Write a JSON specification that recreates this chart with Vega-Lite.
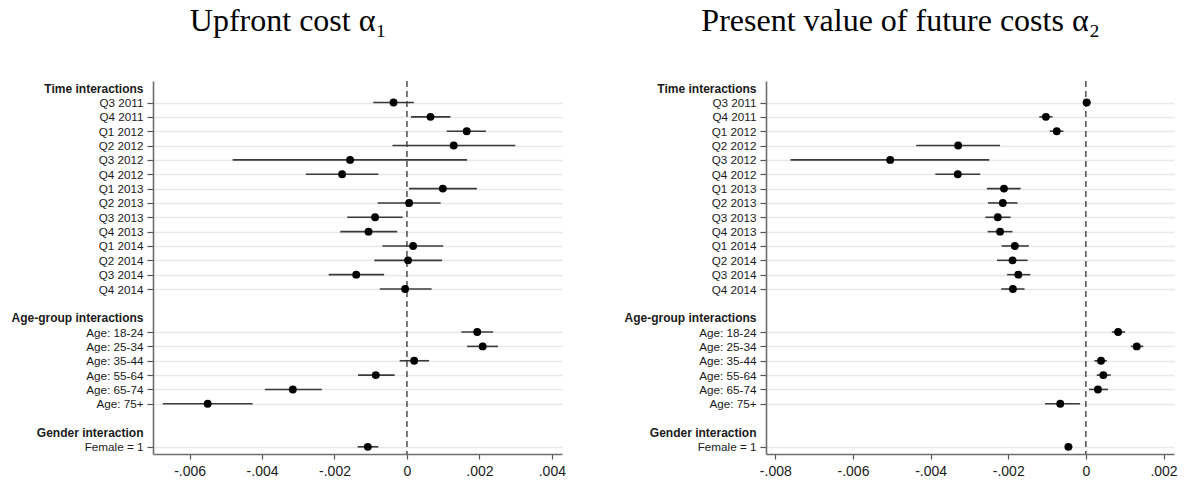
{
  "$schema": "https://vega.github.io/schema/vega-lite/v6.json",
  "padding": {"left": 10, "top": 5, "right": 5, "bottom": 5},
  "background": "white",
  "datasets": {
    "a1": [
      {"term": "Q3 2011", "est": -0.00037, "lo": -0.00093, "hi": 0.00019},
      {"term": "Q4 2011", "est": 0.00065, "lo": 0.00011, "hi": 0.00120},
      {"term": "Q1 2012", "est": 0.00165, "lo": 0.00110, "hi": 0.00218},
      {"term": "Q2 2012", "est": 0.00129, "lo": -0.00040, "hi": 0.00299},
      {"term": "Q3 2012", "est": -0.00157, "lo": -0.00481, "hi": 0.00166},
      {"term": "Q4 2012", "est": -0.00179, "lo": -0.00279, "hi": -0.00079},
      {"term": "Q1 2013", "est": 0.00099, "lo": 0.00006, "hi": 0.00193},
      {"term": "Q2 2013", "est": 0.00006, "lo": -0.00081, "hi": 0.00093},
      {"term": "Q3 2013", "est": -0.00088, "lo": -0.00165, "hi": -0.00012},
      {"term": "Q4 2013", "est": -0.00106, "lo": -0.00184, "hi": -0.00027},
      {"term": "Q1 2014", "est": 0.00017, "lo": -0.00068, "hi": 0.00100},
      {"term": "Q2 2014", "est": 0.00003, "lo": -0.00090, "hi": 0.00097},
      {"term": "Q3 2014", "est": -0.00140, "lo": -0.00216, "hi": -0.00063},
      {"term": "Q4 2014", "est": -0.00005, "lo": -0.00075, "hi": 0.00068},
      {"term": "Age: 18-24", "est": 0.00194, "lo": 0.00150, "hi": 0.00238},
      {"term": "Age: 25-34", "est": 0.00209, "lo": 0.00166, "hi": 0.00251},
      {"term": "Age: 35-44", "est": 0.00020, "lo": -0.00020, "hi": 0.00061},
      {"term": "Age: 55-64", "est": -0.00086, "lo": -0.00135, "hi": -0.00034},
      {"term": "Age: 65-74", "est": -0.00315, "lo": -0.00392, "hi": -0.00235},
      {"term": "Age: 75+", "est": -0.00550, "lo": -0.00674, "hi": -0.00426},
      {"term": "Female = 1", "est": -0.00108, "lo": -0.00136, "hi": -0.00079}
    ],
    "a2": [
      {"term": "Q3 2011", "est": 0.00002, "lo": -0.00008, "hi": 0.00013},
      {"term": "Q4 2011", "est": -0.00103, "lo": -0.00120, "hi": -0.00086},
      {"term": "Q1 2012", "est": -0.00075, "lo": -0.00093, "hi": -0.00058},
      {"term": "Q2 2012", "est": -0.00329, "lo": -0.00437, "hi": -0.00221},
      {"term": "Q3 2012", "est": -0.00504, "lo": -0.00761, "hi": -0.00249},
      {"term": "Q4 2012", "est": -0.00330, "lo": -0.00388, "hi": -0.00272},
      {"term": "Q1 2013", "est": -0.00211, "lo": -0.00255, "hi": -0.00168},
      {"term": "Q2 2013", "est": -0.00214, "lo": -0.00252, "hi": -0.00176},
      {"term": "Q3 2013", "est": -0.00227, "lo": -0.00259, "hi": -0.00194},
      {"term": "Q4 2013", "est": -0.00221, "lo": -0.00253, "hi": -0.00189},
      {"term": "Q1 2014", "est": -0.00183, "lo": -0.00217, "hi": -0.00147},
      {"term": "Q2 2014", "est": -0.00189, "lo": -0.00229, "hi": -0.00150},
      {"term": "Q3 2014", "est": -0.00174, "lo": -0.00203, "hi": -0.00143},
      {"term": "Q4 2014", "est": -0.00188, "lo": -0.00218, "hi": -0.00158},
      {"term": "Age: 18-24", "est": 0.00083, "lo": 0.00067, "hi": 0.00101},
      {"term": "Age: 25-34", "est": 0.00131, "lo": 0.00116, "hi": 0.00148},
      {"term": "Age: 35-44", "est": 0.00039, "lo": 0.00022, "hi": 0.00054},
      {"term": "Age: 55-64", "est": 0.00045, "lo": 0.00028, "hi": 0.00064},
      {"term": "Age: 65-74", "est": 0.00031, "lo": 0.00008, "hi": 0.00057},
      {"term": "Age: 75+", "est": -0.00066, "lo": -0.00105, "hi": -0.00015},
      {"term": "Female = 1", "est": -0.00045, "lo": -0.00054, "hi": -0.00035}
    ],
    "zero": [{"z": 0}]
  },
  "spacing": 57,
  "hconcat": [
    {
      "width": 409,
      "height": 373,
      "title": {"text": "Upfront cost α₁"},
      "layer": [
        {
          "data": {"name": "zero"},
          "mark": {"type": "rule", "color": "#333333", "strokeWidth": 1.3, "strokeDash": [6, 4]},
          "encoding": {
            "x": {"field": "z", "type": "quantitative", "scale": {"domain": [-0.00701, 0.00428], "nice": false, "zero": false}}
          }
        },
        {
          "data": {"name": "a1"},
          "mark": {"type": "rule", "color": "#3a3a3a", "strokeWidth": 1.6},
          "encoding": {
            "y": {"field": "term", "type": "nominal", "sort": null,
              "scale": {"type": "point", "padding": 0.5, "domain": ["Time interactions", "Q3 2011", "Q4 2011", "Q1 2012", "Q2 2012", "Q3 2012", "Q4 2012", "Q1 2013", "Q2 2013", "Q3 2013", "Q4 2013", "Q1 2014", "Q2 2014", "Q3 2014", "Q4 2014", "_b1", "Age-group interactions", "Age: 18-24", "Age: 25-34", "Age: 35-44", "Age: 55-64", "Age: 65-74", "Age: 75+", "_b2", "Gender interaction", "Female = 1"]}},
            "x": {"field": "lo", "type": "quantitative", "scale": {"domain": [-0.00701, 0.00428], "nice": false, "zero": false},
              "axis": {"values": [-0.006, -0.004, -0.002, 0, 0.002, 0.004]}},
            "x2": {"field": "hi"}
          }
        },
        {
          "data": {"name": "a1"},
          "mark": {"type": "point", "filled": true, "size": 62, "color": "black", "opacity": 1},
          "encoding": {
            "y": {"field": "term", "type": "nominal", "sort": null},
            "x": {"field": "est", "type": "quantitative"}
          }
        }
      ]
    },
    {
      "width": 408,
      "height": 373,
      "title": {"text": "Present value of future costs α₂"},
      "layer": [
        {
          "data": {"name": "zero"},
          "mark": {"type": "rule", "color": "#333333", "strokeWidth": 1.3, "strokeDash": [6, 4]},
          "encoding": {
            "x": {"field": "z", "type": "quantitative", "scale": {"domain": [-0.00824, 0.00227], "nice": false, "zero": false}}
          }
        },
        {
          "data": {"name": "a2"},
          "mark": {"type": "rule", "color": "#3a3a3a", "strokeWidth": 1.6},
          "encoding": {
            "y": {"field": "term", "type": "nominal", "sort": null,
              "scale": {"type": "point", "padding": 0.5, "domain": ["Time interactions", "Q3 2011", "Q4 2011", "Q1 2012", "Q2 2012", "Q3 2012", "Q4 2012", "Q1 2013", "Q2 2013", "Q3 2013", "Q4 2013", "Q1 2014", "Q2 2014", "Q3 2014", "Q4 2014", "_b1", "Age-group interactions", "Age: 18-24", "Age: 25-34", "Age: 35-44", "Age: 55-64", "Age: 65-74", "Age: 75+", "_b2", "Gender interaction", "Female = 1"]}},
            "x": {"field": "lo", "type": "quantitative", "scale": {"domain": [-0.00824, 0.00227], "nice": false, "zero": false},
              "axis": {"values": [-0.008, -0.006, -0.004, -0.002, 0, 0.002]}},
            "x2": {"field": "hi"}
          }
        },
        {
          "data": {"name": "a2"},
          "mark": {"type": "point", "filled": true, "size": 62, "color": "black", "opacity": 1},
          "encoding": {
            "y": {"field": "term", "type": "nominal", "sort": null},
            "x": {"field": "est", "type": "quantitative"}
          }
        }
      ]
    }
  ],
  "config": {
    "view": {"stroke": null},
    "title": {"font": "Liberation Serif", "fontSize": 32, "fontWeight": "normal", "color": "black", "frame": "bounds", "anchor": "middle", "offset": 42},
    "axisY": {
      "title": null,
      "grid": true,
      "gridColor": "#e8e8e8",
      "gridWidth": 1.3,
      "gridOpacity": {"condition": {"test": "indexof(['Time interactions','Age-group interactions','Gender interaction','_b1','_b2'], datum.value) >= 0", "value": 0}, "value": 1},
      "tickOpacity": {"condition": {"test": "indexof(['Time interactions','Age-group interactions','Gender interaction','_b1','_b2'], datum.value) >= 0", "value": 0}, "value": 1},
      "labelFontWeight": {"condition": {"test": "indexof(['Time interactions','Age-group interactions','Gender interaction'], datum.value) >= 0", "value": "bold"}, "value": "normal"},
      "labelFontSize": {"condition": {"test": "indexof(['Time interactions','Age-group interactions','Gender interaction'], datum.value) >= 0", "value": 12}, "value": 11.7},
      "labelExpr": "indexof(datum.value, '_b') == 0 ? '' : datum.label",
      "labelFont": "Liberation Sans",
      "labelColor": "#1a1a1a",
      "labelPadding": 4,
      "tickSize": 6,
      "tickColor": "#555555",
      "tickWidth": 1.2,
      "domainColor": "#6e6e6e",
      "domainWidth": 1.6,
      "labelLimit": 300
    },
    "axisX": {
      "title": null,
      "grid": false,
      "labelFont": "Liberation Sans",
      "labelFontSize": 14,
      "labelColor": "#1a1a1a",
      "labelPadding": 5,
      "tickSize": 5,
      "tickColor": "#555555",
      "tickWidth": 1.2,
      "domainColor": "#6e6e6e",
      "domainWidth": 1.6,
      "labelExpr": "datum.value == 0 ? '0' : (datum.value < 0 ? '-' : '') + replace(format(abs(datum.value), '.3f'), '0.', '.')"
    }
  }
}
